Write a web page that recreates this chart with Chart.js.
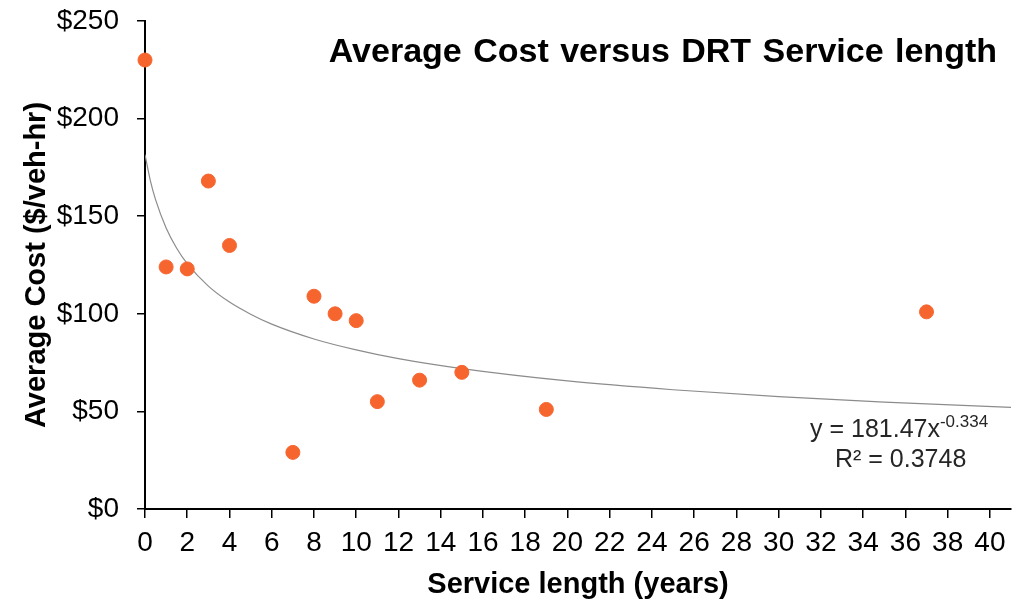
<!DOCTYPE html>
<html>
<head>
<meta charset="utf-8">
<script src="https://cdn.jsdelivr.net/npm/chart.js@4/dist/chart.umd.min.js"></script>
<style>
  html, body { margin: 0; padding: 0; background: #fff; }
  #wrap { width: 1027px; height: 602px; }
</style>
</head>
<body>
<div id="wrap"><canvas id="chart"></canvas></div>
<script>
// datos
const serviceYears = [0, 1, 2, 3, 4, 7, 8, 9, 10, 11, 13, 15, 19, 37];
const avgCost = [230, 124, 123, 168, 135, 29, 109, 100, 96.5, 55, 66, 70, 51, 101];

const trendX = [0, 0.25, 0.5, 1, 1.5, 2, 3, 4, 5, 6, 8, 10, 12, 15, 20, 25, 30, 35, 41];
const trendY = [181.5, 168.4, 158.5, 144, 133.6, 125.7, 114.2, 106, 99.8, 94.7, 87.1, 81.5, 77, 71.9, 65.6, 61.1, 57.6, 54.8, 52.1];

const yTicks = [0, 50, 100, 150, 200, 250];

const chartTitle = 'Average Cost versus DRT Service length';
const eqText = 'y = 181.47x';
const eqExp = '-0.334';
const r2Text = 'R\u00b2 = 0.3748';

const FONT = '"Liberation Sans", Arial, sans-serif';

const pts = serviceYears.map((x, i) => ({ x: x, y: avgCost[i] }));
const trend = trendX.map((x, i) => ({ x: x, y: trendY[i] }));

// textos dentro del area del grafico
const textPlugin = {
  id: 'textos',
  afterDraw(chart) {
    const c = chart.ctx;
    c.save();
    c.fillStyle = '#000';
    c.font = 'bold 34px ' + FONT;
    c.textAlign = 'right';
    c.textBaseline = 'alphabetic';
    if ('wordSpacing' in c) c.wordSpacing = '2px';
    c.fillText(chartTitle, 997, 62);
    if ('wordSpacing' in c) c.wordSpacing = '0px';

    c.fillStyle = '#262626';
    c.textAlign = 'left';
    c.font = '25px ' + FONT;
    c.fillText(eqText, 810, 437);
    const w = c.measureText(eqText).width;
    c.font = '17px ' + FONT;
    c.fillText(eqExp, 810 + w, 427);
    c.font = '25px ' + FONT;
    c.fillText(r2Text, 835, 467);
    c.restore();
  }
};

const ctx = document.getElementById('chart').getContext('2d');

new Chart(ctx, {
  type: 'scatter',
  data: {
    datasets: [
      {
        label: 'Trend',
        data: trend,
        showLine: true,
        borderColor: '#8c8c8c',
        borderWidth: 1.2,
        pointRadius: 0,
        cubicInterpolationMode: 'monotone',
        fill: false,
        order: 2
      },
      {
        label: 'Average Cost',
        data: pts,
        backgroundColor: '#F7652E',
        borderColor: '#F7652E',
        pointRadius: 7,
        pointHoverRadius: 7,
        clip: false,
        order: 1
      }
    ]
  },
  options: {
    responsive: true,
    maintainAspectRatio: false,
    animation: false,
    events: [],
    layout: { padding: { top: 21, right: 16, left: 0, bottom: 0 } },
    plugins: {
      legend: { display: false },
      tooltip: { enabled: false }
    },
    scales: {
      x: {
        type: 'linear',
        min: 0,
        max: 41,
        afterFit(s) { s.height = 93; s.paddingLeft = 0; s.paddingRight = 0; },
        border: { color: '#000', width: 2 },
        grid: { drawOnChartArea: false, drawTicks: true, tickLength: 9, color: '#000', lineWidth: 1.5 },
        ticks: {
          stepSize: 2,
          includeBounds: false,
          color: '#000',
          padding: 8,
          font: { family: FONT, size: 28 },
          maxRotation: 0
        },
        title: {
          display: true,
          text: 'Service length (years)',
          color: '#000',
          font: { family: FONT, size: 29, weight: 'bold' },
          padding: { top: 0, bottom: 0 }
        }
      },
      y: {
        min: 0,
        max: 250,
        afterFit(s) { s.width = 145; s.paddingTop = 0; s.paddingBottom = 0; },
        afterBuildTicks(s) { s.ticks = yTicks.map(v => ({ value: v })); },
        border: { color: '#000', width: 2 },
        grid: { drawOnChartArea: false, drawTicks: true, tickLength: 8, color: '#000', lineWidth: 1.5 },
        ticks: {
          color: '#000',
          padding: 18,
          font: { family: FONT, size: 28 },
          callback: v => '$' + v
        },
        title: {
          display: true,
          text: 'Average Cost ($/veh-hr)',
          color: '#000',
          font: { family: FONT, size: 29, weight: 'bold' },
          padding: { top: 20, bottom: 0 }
        }
      }
    }
  },
  plugins: [textPlugin]
});
</script>
</body>
</html>
